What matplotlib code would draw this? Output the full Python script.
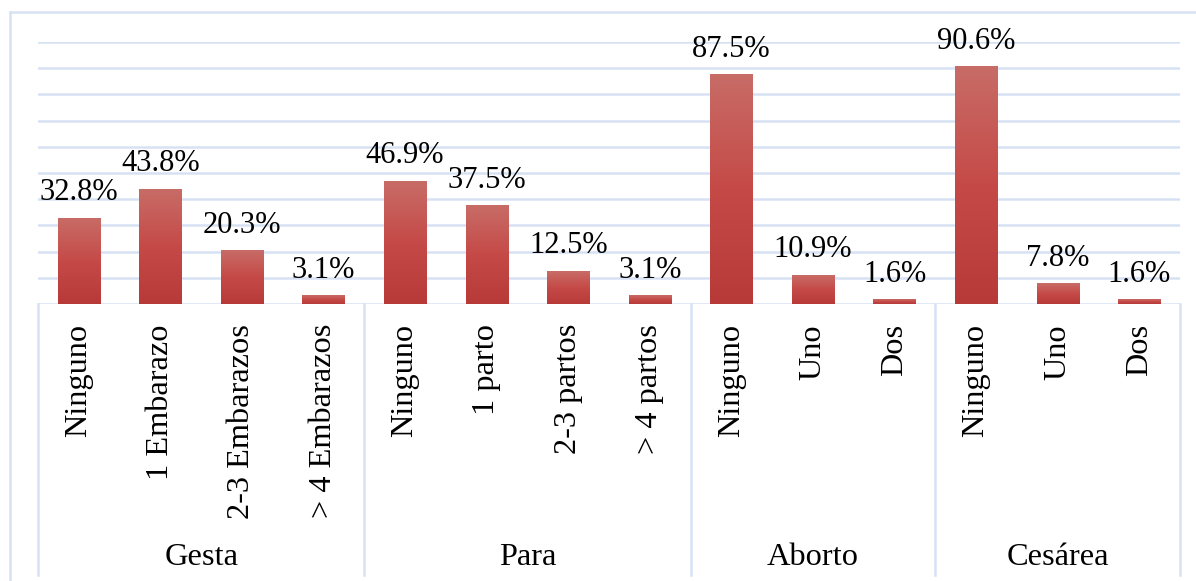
import numpy as np
import matplotlib.pyplot as plt
from matplotlib.colors import LinearSegmentedColormap
from matplotlib.lines import Line2D
import matplotlib.transforms as mtransforms

plt.rcParams['font.family'] = ['Liberation Serif', 'DejaVu Serif']

groups = ['Gesta', 'Para', 'Aborto', 'Cesárea']
categories = [
    ['Ninguno', '1 Embarazo', '2-3 Embarazos', '> 4 Embarazos'],
    ['Ninguno', '1 parto', '2-3 partos', '> 4 partos'],
    ['Ninguno', 'Uno', 'Dos'],
    ['Ninguno', 'Uno', 'Dos'],
]
values = [
    [32.8, 43.8, 20.3, 3.1],
    [46.9, 37.5, 12.5, 3.1],
    [87.5, 10.9, 1.6],
    [90.6, 7.8, 1.6],
]

W, H = 1196, 581
fig = plt.figure(figsize=(W / 100, H / 100), dpi=100)
ax = fig.add_axes([38 / W, 1 - 304 / H, (1180 - 38) / W, (304 - 42) / H])

grid_col = '#D6E2F3'
fs_val = 22
fs_cat = 23.3

labels = [c for g in categories for c in g]
vals = [v for g in values for v in g]
x = np.arange(len(vals))

bars = ax.bar(x, vals, width=0.515, color='none', edgecolor='none', zorder=3)

cmap = LinearSegmentedColormap.from_list('red', ['#B73A39', '#C54A47', '#C86C67'])
grad = np.linspace(0, 1, 256).reshape(-1, 1)
for b in bars:
    x0, w, h = b.get_x(), b.get_width(), b.get_height()
    ax.imshow(grad, extent=[x0, x0 + w, 0, h], origin='lower', aspect='auto',
              cmap=cmap, zorder=3, interpolation='bicubic')

for xi, v in zip(x, vals):
    ax.annotate(f'{v:.1f}%', (xi, v), xytext=(0, 13), textcoords='offset points',
                ha='center', va='baseline', fontsize=fs_val, color='black', zorder=4)

ax.set_xlim(-0.5, len(vals) - 0.5)
ax.set_ylim(0, 100)
ax.set_yticks(np.arange(10, 101, 10))
ax.yaxis.grid(True, color=grid_col, lw=1.8)
ax.set_axisbelow(True)
ax.tick_params(left=False, labelleft=False, bottom=False, labelbottom=False)
for s in ax.spines.values():
    s.set_visible(False)
ax.axhline(0, color=grid_col, lw=1.8, zorder=2)

trans = mtransforms.blended_transform_factory(ax.transData, ax.transAxes)
axh = 304 - 42
y_bot = (304 - 575) / axh
y_tick = (304 - 324) / axh
y_grp = (304 - 565) / axh

for xi, lab in zip(x, labels):
    ax.text(xi, y_tick, lab, transform=trans, rotation=90, ha='center', va='top',
            fontsize=fs_cat)

start = 0
seps = [-0.5]
for g, cats in zip(groups, categories):
    end = start + len(cats)
    ax.text((start + end - 1) / 2, y_grp, g, transform=trans, ha='center',
            va='baseline', fontsize=fs_cat)
    seps.append(end - 0.5)
    start = end

for s in seps:
    ax.add_line(Line2D([s, s], [0, y_bot], transform=trans, color=grid_col,
                       lw=1.8, clip_on=False))

# outer chart border
fig.add_artist(Line2D([9.5 / W, 9.5 / W], [0, 1 - 12 / H], color=grid_col, lw=1.8))
fig.add_artist(Line2D([9.5 / W, 1], [1 - 12 / H, 1 - 12 / H], color=grid_col, lw=1.8))

fig.savefig('out.png', dpi=100)
